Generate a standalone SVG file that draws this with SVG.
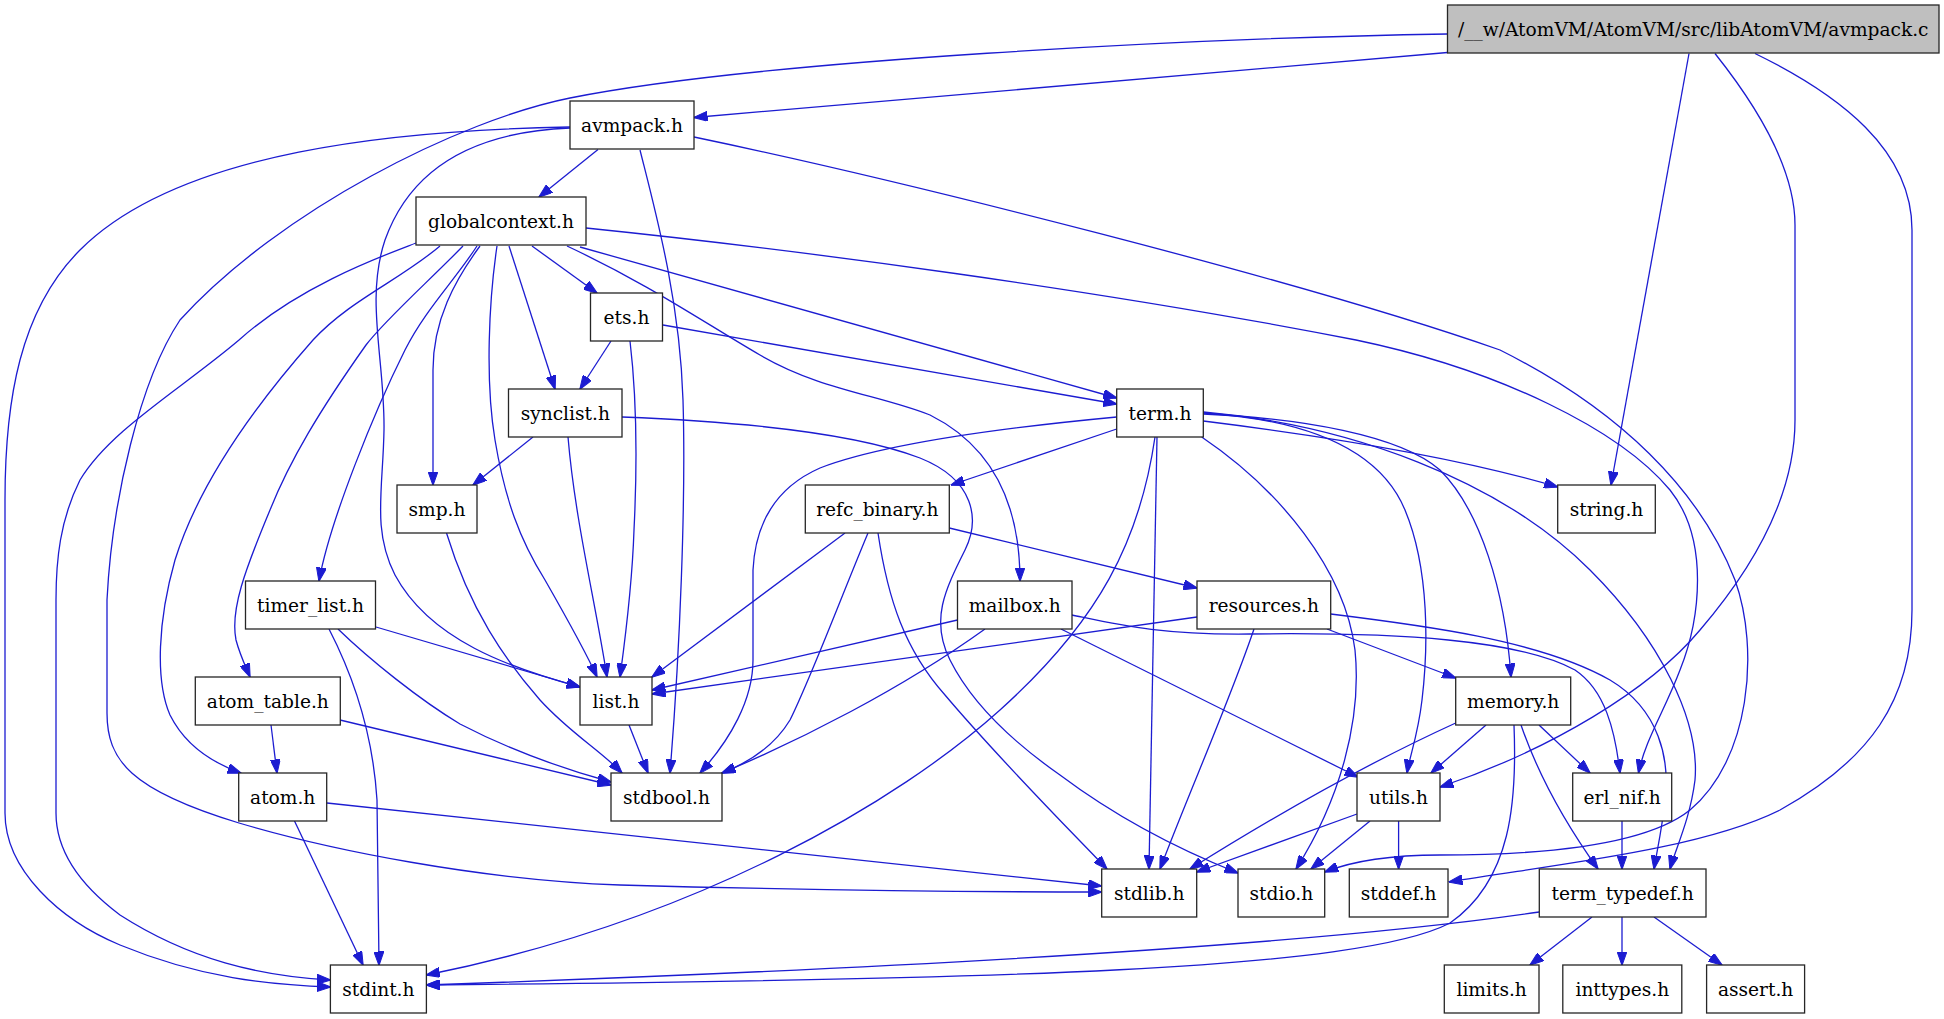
<svg xmlns="http://www.w3.org/2000/svg" width="1944" height="1019" viewBox="0 0 1944 1019">
<style>
.n rect{fill:#ffffff;stroke:#262626;stroke-width:1.3}
.n text{font-family:"DejaVu Serif",serif;font-size:18.6px;fill:#000;text-anchor:middle}
.e path{fill:none;stroke:#1c1cd1;stroke-width:1.3;marker-end:url(#ah)}
</style>
<defs>
<marker id="ah" markerWidth="14" markerHeight="10" refX="13.5" refY="5" orient="auto" markerUnits="userSpaceOnUse">
<path d="M0,0 L14,5 L0,10 z" fill="#1c1cd1" stroke="#1c1cd1" stroke-width="1"/>
</marker>
</defs>
<rect width="1944" height="1019" fill="#ffffff"/>
<g id="edges" class="e">
<path d="M1447.5,52.5 L694,117.5"/>
<path d="M1447.5,34 C1200,38 760,60 570,98 C460,120 280,210 180,320 C140,380 112,500 107,600 L107,713 C107,760 130,790 239,823 C330,850 480,880 620,885 C800,890 1000,892 1101.7,892"/>
<path d="M1689,53.5 L1611,485"/>
<path d="M1715,53.5 C1760,110 1795,170 1795,225 L1795,420 C1795,490 1760,560 1700,630 C1650,690 1550,750 1440,787"/>
<path d="M1755,53.5 C1840,95 1912,150 1912,230 L1912,610 C1912,700 1870,760 1780,810 C1700,850 1550,865 1449,882"/>
<path d="M598,149.5 L539,197"/>
<path d="M570,128 C470,132 410,170 385,240 C365,300 385,360 384,430 C383,490 372,530 395,575 C430,640 510,668 580,687"/>
<path d="M640,150 C655,210 680,300 683,400 C686,500 680,650 670,773"/>
<path d="M570,127 C400,130 180,150 80,250 C20,310 5,400 5,500 L5,813 C5,870 60,920 120,945 C200,978 270,985 330.4,987"/>
<path d="M694,137 C900,180 1300,280 1500,350 C1620,410 1700,490 1735,580 C1760,650 1750,760 1690,810 C1640,850 1520,855 1440,855 C1390,855 1350,862 1324.7,872"/>
<path d="M416,243 C385,255 300,285 239,340 C180,390 110,430 80,480 C60,520 56,560 56,600 L56,813 C56,850 80,885 120,915 C190,960 260,976 330.4,980"/>
<path d="M440,246 C400,280 350,300 313,340 C260,400 200,480 175,560 C158,620 155,680 170,715 C185,745 210,762 241,773"/>
<path d="M463,246 C430,280 385,320 366,345 C320,410 290,460 270,510 C245,570 230,610 236,640 C240,655 245,665 250,677"/>
<path d="M477,246 C455,280 425,310 405,350 C375,410 330,520 319,581"/>
<path d="M480,246 C455,280 433,320 433,370 L433,485"/>
<path d="M497,246 C489,300 485,380 495,440 C505,500 520,540 545,580 C565,615 585,650 597,677"/>
<path d="M509,246 L555,389"/>
<path d="M532,246 L597,293"/>
<path d="M567,246 C650,285 700,320 760,355 C820,390 880,395 930,415 C990,445 1020,500 1020,581"/>
<path d="M580,247 L1116.7,398"/>
<path d="M586,228 C800,250 1100,290 1356,340 C1500,370 1620,430 1670,490 C1710,540 1700,620 1680,670 C1665,710 1645,740 1638.5,773"/>
<path d="M611,341 L580,389"/>
<path d="M630,341 C637,400 637,470 634,530 C632,590 625,640 620,677"/>
<path d="M663,325 L1116.7,404"/>
<path d="M533,437 L473,485"/>
<path d="M568,437 C575,520 595,600 607,677"/>
<path d="M622,417 C750,422 860,435 920,458 C975,480 980,520 965,550 C945,590 930,620 950,660 C970,700 1010,740 1060,775 C1120,820 1180,850 1238,873"/>
<path d="M1116.7,429 L951,485"/>
<path d="M1116.7,417 C1000,428 880,445 820,468 C770,490 755,530 753,570 L753,660 C753,700 730,740 700,773"/>
<path d="M1155,437 C1140,540 1100,620 1000,710 C900,800 700,920 426.4,975"/>
<path d="M1157,437 L1149,869"/>
<path d="M1201.7,437 C1280,490 1345,570 1355,650 C1362,720 1340,800 1296,869"/>
<path d="M1203.3,421 C1300,433 1450,455 1557.7,487"/>
<path d="M1203.3,414 C1300,418 1400,435 1440,470 C1480,510 1505,590 1511,677"/>
<path d="M1203.3,413 C1310,420 1380,450 1405,510 C1430,570 1428,650 1422,700 C1418,735 1410,755 1407,773"/>
<path d="M1203.3,412 C1350,425 1500,480 1590,570 C1660,640 1700,720 1695,780 C1690,820 1675,850 1670,869"/>
<path d="M845,533 L652,677"/>
<path d="M868,533 C840,600 810,680 790,720 C775,745 750,762 722,773"/>
<path d="M878,533 C888,600 905,650 945,695 C1000,760 1060,820 1107,869"/>
<path d="M949.3,528 L1197,588"/>
<path d="M376,627 L580,687"/>
<path d="M338,629 C370,660 420,700 460,724 C510,750 560,768 611,782"/>
<path d="M329,629 C345,660 372,720 377,800 L379,965"/>
<path d="M271,725 L277,773"/>
<path d="M340,720 L611,785"/>
<path d="M294.5,821 L363,965"/>
<path d="M327,803 L1101.7,886"/>
<path d="M629,725 L648,773"/>
<path d="M446.5,533 C470,610 505,660 540,700 C570,733 600,750 622,773"/>
<path d="M957.5,620 L652,690"/>
<path d="M985,629 C900,690 800,740 722,773"/>
<path d="M1061,629 L1358,777"/>
<path d="M1072,615 C1120,625 1160,635 1250,634 C1400,632 1520,640 1575,670 C1605,690 1615,730 1620,773"/>
<path d="M1330.7,614 C1420,625 1540,640 1610,680 C1660,710 1670,760 1665,800 C1662,830 1657,850 1654,869"/>
<path d="M1197,617 L652,694"/>
<path d="M1254,629 C1230,700 1190,790 1160,869"/>
<path d="M1327,629 L1455.7,678"/>
<path d="M1455.7,723 C1390,753 1300,800 1190,869"/>
<path d="M1486,725 L1431,773"/>
<path d="M1539,725 L1590,773"/>
<path d="M1521,725 C1540,780 1570,830 1598,869"/>
<path d="M1514,725 C1517,800 1512,880 1450,923 C1360,970 1000,980 426.4,985"/>
<path d="M1357,814 L1196.7,872"/>
<path d="M1370,821 L1311,869"/>
<path d="M1398.6,821 L1398.6,869"/>
<path d="M1622,821 L1622,869"/>
<path d="M1539.3,912 C1350,940 1000,965 426.4,985"/>
<path d="M1592,917 L1530,965"/>
<path d="M1622,917 L1622,965"/>
<path d="M1654,917 L1722,965"/>
</g>
<g id="n0" class="n"><rect x="1447.5" y="5" width="491.5" height="48" style="fill:#bfbfbf"/><text x="1693.25" y="35.5">/__w/AtomVM/AtomVM/src/libAtomVM/avmpack.c</text></g>
<g id="n1" class="n"><rect x="570" y="101" width="124" height="48"/><text x="632" y="131.5">avmpack.h</text></g>
<g id="n2" class="n"><rect x="416" y="197" width="170" height="48"/><text x="501" y="227.5">globalcontext.h</text></g>
<g id="n3" class="n"><rect x="590.5" y="293" width="72" height="48"/><text x="626.5" y="323.5">ets.h</text></g>
<g id="n4" class="n"><rect x="508.5" y="389" width="113.5" height="48"/><text x="565.25" y="419.5">synclist.h</text></g>
<g id="n5" class="n"><rect x="1116.7" y="389" width="86.6" height="48"/><text x="1160" y="419.5">term.h</text></g>
<g id="n6" class="n"><rect x="397" y="485" width="80" height="48"/><text x="437" y="515.5">smp.h</text></g>
<g id="n7" class="n"><rect x="805.3" y="485" width="144" height="48"/><text x="877.3" y="515.5">refc_binary.h</text></g>
<g id="n8" class="n"><rect x="1557.7" y="485" width="97.6" height="48"/><text x="1606.5" y="515.5">string.h</text></g>
<g id="n9" class="n"><rect x="245.5" y="581" width="130" height="48"/><text x="310.5" y="611.5">timer_list.h</text></g>
<g id="n10" class="n"><rect x="957.5" y="581" width="114.5" height="48"/><text x="1014.75" y="611.5">mailbox.h</text></g>
<g id="n11" class="n"><rect x="1197" y="581" width="133.7" height="48"/><text x="1263.85" y="611.5">resources.h</text></g>
<g id="n12" class="n"><rect x="195.3" y="677" width="145" height="48"/><text x="267.8" y="707.5">atom_table.h</text></g>
<g id="n13" class="n"><rect x="580" y="677" width="72" height="48"/><text x="616" y="707.5">list.h</text></g>
<g id="n14" class="n"><rect x="1455.7" y="677" width="115" height="48"/><text x="1513.2" y="707.5">memory.h</text></g>
<g id="n15" class="n"><rect x="238.7" y="773" width="88" height="48"/><text x="282.7" y="803.5">atom.h</text></g>
<g id="n16" class="n"><rect x="611" y="773" width="111" height="48"/><text x="666.5" y="803.5">stdbool.h</text></g>
<g id="n17" class="n"><rect x="1357" y="773" width="83" height="48"/><text x="1398.5" y="803.5">utils.h</text></g>
<g id="n18" class="n"><rect x="1572.7" y="773" width="99" height="48"/><text x="1622.2" y="803.5">erl_nif.h</text></g>
<g id="n19" class="n"><rect x="1101.7" y="869" width="95" height="48"/><text x="1149.2" y="899.5">stdlib.h</text></g>
<g id="n20" class="n"><rect x="1238" y="869" width="86.7" height="48"/><text x="1281.35" y="899.5">stdio.h</text></g>
<g id="n21" class="n"><rect x="1349.3" y="869" width="98.7" height="48"/><text x="1398.65" y="899.5">stddef.h</text></g>
<g id="n22" class="n"><rect x="1539.3" y="869" width="166.7" height="48"/><text x="1622.65" y="899.5">term_typedef.h</text></g>
<g id="n23" class="n"><rect x="330.4" y="965" width="96" height="48"/><text x="378.4" y="995.5">stdint.h</text></g>
<g id="n24" class="n"><rect x="1444.3" y="965" width="94.7" height="48"/><text x="1491.65" y="995.5">limits.h</text></g>
<g id="n25" class="n"><rect x="1562.8" y="965" width="119" height="48"/><text x="1622.3" y="995.5">inttypes.h</text></g>
<g id="n26" class="n"><rect x="1706.6" y="965" width="98" height="48"/><text x="1755.6" y="995.5">assert.h</text></g>
</svg>
